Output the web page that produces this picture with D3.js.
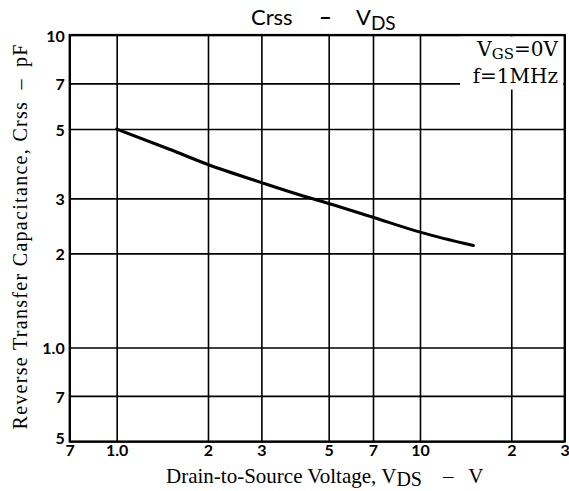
<!DOCTYPE html>
<html><head><meta charset="utf-8">
<script src="https://cdn.jsdelivr.net/npm/d3@7"></script>
<style>
html,body{margin:0;padding:0;background:#fff;}
svg{display:block;}
</style></head>
<body>
<svg id="chart" width="569" height="491"></svg>
<script>
// ---- data ----
const vds  = [1, 1.5, 2, 3, 4, 5, 7, 10, 15];
const crss = [5.0, 4.3, 3.85, 3.37, 3.08, 2.89, 2.61, 2.34, 2.12];
const xTicks = [0.7, 1, 2, 3, 5, 7, 10, 20, 30];
const xTickLabels = ["7", "1.0", "2", "3", "5", "7", "10", "2", "3"];
const yTicks = [0.5, 0.7, 1, 2, 3, 5, 7, 10];
const yTickLabels = ["5", "7", "1.0", "2", "3", "5", "7", "10"];

const svg = d3.select("#chart");
const L = 69.7, R = 564.7, T = 35, B = 441.5;
const x = d3.scaleLog().domain([0.7, 30]).range([L, R]);
const y = d3.scaleLog().domain([0.5, 10]).range([B, T]);

const tickFont = "Lato, 'Open Sans', sans-serif";

// grid via axes
const gx = svg.append("g").attr("transform", `translate(0,${B})`)
  .call(d3.axisBottom(x).tickValues(xTicks).tickSize(-(B - T)).tickPadding(6)
        .tickFormat((d, i) => xTickLabels[i]));
gx.select(".domain").remove();
gx.selectAll("line").attr("stroke", "#000").attr("stroke-width", 1.6);
gx.selectAll("text").attr("font-family", tickFont).attr("font-weight", 700)
  .attr("font-size", 16).attr("fill", "#000").attr("dy", "0.55em");

const gy = svg.append("g").attr("transform", `translate(${L},0)`)
  .call(d3.axisLeft(y).tickValues(yTicks).tickSize(-(R - L)).tickPadding(5)
        .tickFormat((d, i) => yTickLabels[i]));
gy.select(".domain").remove();
gy.selectAll("line").attr("stroke", "#000").attr("stroke-width", 1.6);
gy.selectAll("text").attr("font-family", tickFont).attr("font-weight", 700)
  .attr("font-size", 16).attr("fill", "#000").attr("dy", "0.4em");
gy.selectAll(".tick").filter(d => d === 0.5).select("text").attr("dy", "0.15em");

// white box behind annotation
svg.append("rect").attr("x", 460).attr("y", T + 1.5).attr("width", R - 1.5 - 460).attr("height", 53)
  .attr("fill", "#fff");

// frame
svg.append("rect").attr("x", L).attr("y", T).attr("width", R - L).attr("height", B - T)
  .attr("fill", "none").attr("stroke", "#000").attr("stroke-width", 2.2);

// curve
const line = d3.line().x((d, i) => x(vds[i])).y(d => y(d)).curve(d3.curveMonotoneX);
svg.append("path").datum(crss).attr("d", line)
  .attr("fill", "none").attr("stroke", "#000").attr("stroke-width", 3).attr("stroke-linecap", "round");

// title
const title = svg.append("text").attr("x", 251).attr("y", 25)
  .attr("font-family", "Lato, 'Open Sans', sans-serif").attr("font-size", 22).attr("fill", "#000");
title.append("tspan").text("Crss");
title.append("tspan").attr("x", 319).attr("font-weight", 700).text("–");
title.append("tspan").attr("x", 356).text("V");
title.append("tspan").attr("font-size", 19).attr("dy", 5).text("DS");

// annotation
const a1 = svg.append("text").attr("x", 558).attr("y", 56).attr("text-anchor", "end")
  .attr("font-family", "'DejaVu Serif', serif").attr("font-size", 20).attr("fill", "#000");
a1.append("tspan").text("V");
a1.append("tspan").attr("font-size", 15).attr("dy", 3).text("GS");
a1.append("tspan").attr("dy", -3).text("=0V");
svg.append("text").attr("x", 558).attr("y", 83).attr("text-anchor", "end")
  .attr("font-family", "'DejaVu Serif', serif").attr("font-size", 20).attr("fill", "#000")
  .text("f=1MHz");

// x axis title
const serif = "'Liberation Serif', 'Times New Roman', serif";
const xt = svg.append("text").attr("x", 166).attr("y", 483)
  .attr("font-family", serif).attr("font-size", 21).attr("fill", "#000");
xt.append("tspan").text("Drain-to-Source Voltage, V");
xt.append("tspan").attr("font-size", 20).attr("dy", 3).text("DS");
xt.append("tspan").attr("dy", -3).text("\u2003–\u2002\u2009V");

// y axis title
svg.append("text").attr("transform", "translate(27,237) rotate(-90)").attr("text-anchor", "middle")
  .attr("font-family", serif).attr("font-size", 20).attr("fill", "#000")
  .attr("textLength", 385).attr("lengthAdjust", "spacing")
  .text("Reverse Transfer Capacitance, Crss\u2002–\u2002pF");
</script>
</body></html>
